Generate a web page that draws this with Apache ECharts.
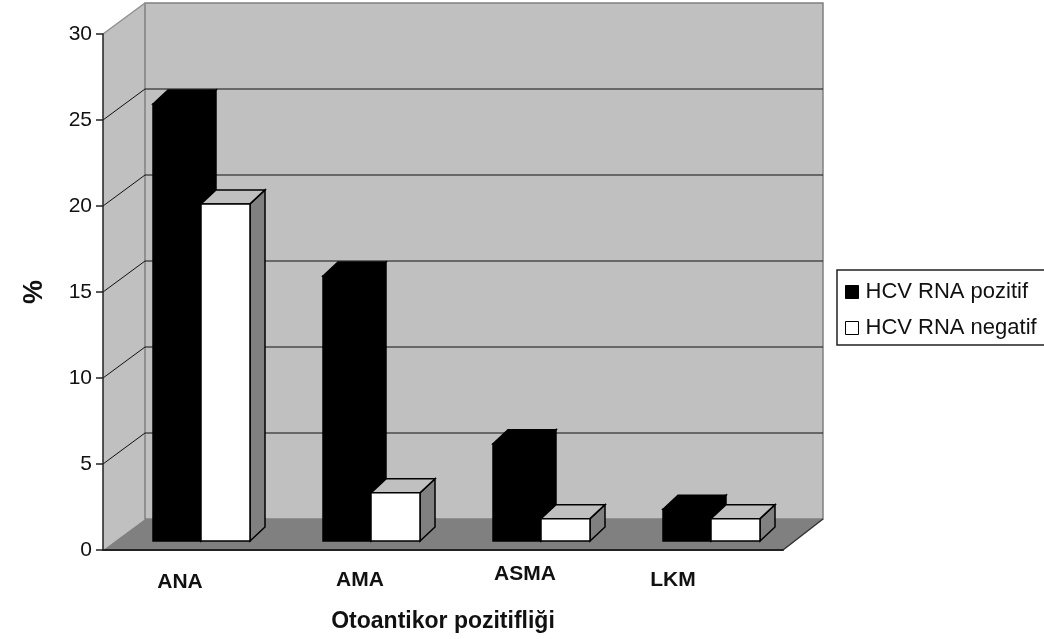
<!DOCTYPE html>
<html>
<head>
    <meta charset="utf-8">
    <title>Otoantikor</title>
    <style>
        html, body { margin: 0; padding: 0; background: #fff; overflow: hidden; }
        #main { width: 1044px; height: 639px; }
    </style>
</head>
<body>
    <div id="main"></div>
    <script src="https://cdn.jsdelivr.net/npm/echarts@6/dist/echarts.min.js"></script>
    <script>
        var categories = ['ANA', 'AMA', 'ASMA', 'LKM'];
        var hcvPozitif = [25.4, 15.4, 5.65, 1.85];
        var hcvNegatif = [19.6, 2.8, 1.3, 1.3];
        var gridValues = [5, 10, 15, 20, 25];

        var FONT = '"Liberation Sans", Arial, sans-serif';
        // 3d look of the old excel chart, in px
        var WALL_DX = 42, WALL_RIGHT_DX = 40, WALL_DY = 31;
        var BAR_DX = 15, BAR_DY = 14;
        var FLOOR_GAP = 9, BAR_W = 49, SHIFT = 13;

        function poly(points, fill, stroke, width) {
            return {
                type: 'polygon',
                shape: { points: points },
                style: { fill: fill, stroke: stroke || null, lineWidth: width || 0 }
            };
        }
        function line(a, b, color, width) {
            return {
                type: 'line',
                shape: { x1: a[0], y1: a[1], x2: b[0], y2: b[1] },
                style: { stroke: color, lineWidth: width || 1 }
            };
        }

        function renderWalls(params, api) {
            var c = params.coordSys;
            var l = c.x, r = c.x + c.width, t = c.y, b = c.y + c.height;
            var backR = r + WALL_RIGHT_DX;
            var out = [
                poly([[l, b], [l + WALL_DX, b - WALL_DY], [l + WALL_DX, t - WALL_DY], [l, t]], '#c0c0c0'),
                poly([[l + WALL_DX, b - WALL_DY], [backR, b - WALL_DY], [backR, t - WALL_DY], [l + WALL_DX, t - WALL_DY]], '#c0c0c0', '#808080', 1.5),
                poly([[l, b], [r, b], [backR, b - WALL_DY], [l + WALL_DX, b - WALL_DY]], '#808080'),
                line([l, t], [l + WALL_DX, t - WALL_DY], '#909090', 1.5),
                line([r, b], [backR, b - WALL_DY], '#333', 1.5)
            ];
            gridValues.forEach(function (v) {
                var y = api.coord([0, v])[1];
                out.push(line([l, y], [l + WALL_DX, y - WALL_DY], '#111', 1));
                out.push(line([l + WALL_DX, y - WALL_DY], [backR, y - WALL_DY], '#111', 1.2));
            });
            return { type: 'group', children: out };
        }

        function renderBar(fill, topFill, sideFill, first) {
            return function (params, api) {
                var p = api.coord([api.value(0), api.value(1)]);
                var base = api.coord([api.value(0), 0])[1] - FLOOR_GAP;
                var x0 = p[0] + SHIFT + (first ? -BAR_W + 1 : 0);
                var x1 = first ? x0 + BAR_W - 1 : x0 + BAR_W;
                var y = p[1] - FLOOR_GAP;
                return {
                    type: 'group',
                    children: [
                        poly([[x1, y], [x1 + BAR_DX, y - BAR_DY], [x1 + BAR_DX, base - BAR_DY], [x1, base]], sideFill, '#000', 1.5),
                        poly([[x0, y], [x0 + BAR_DX, y - BAR_DY], [x1 + BAR_DX, y - BAR_DY], [x1, y]], topFill, '#000', 1.5),
                        poly([[x0, y], [x1, y], [x1, base], [x0, base]], fill, '#000', 1.5)
                    ]
                };
            };
        }

        function toData(values) {
            return values.map(function (v, i) { return [i, v]; });
        }

        var chart = echarts.init(document.getElementById('main'), null, { renderer: 'canvas' });
        chart.setOption({
            animation: false,
            backgroundColor: '#fff',
            grid: { left: 103, right: 261, top: 34, bottom: 89, outerBoundsMode: 'none' },
            legend: {
                orient: 'vertical',
                left: 837,
                top: 270,
                padding: [11, 12, 6, 8],
                itemWidth: 13,
                itemHeight: 13,
                itemGap: 14,
                borderColor: '#222',
                borderWidth: 1.5,
                backgroundColor: '#fff',
                textStyle: { fontFamily: FONT, fontSize: 22, color: '#111', padding: [0, 0, 0, 2] },
                data: [
                    { name: 'HCV RNA pozitif', icon: 'rect', itemStyle: { color: '#000', borderColor: '#000', borderWidth: 1 } },
                    { name: 'HCV RNA negatif', icon: 'rect', itemStyle: { color: '#fff', borderColor: '#000', borderWidth: 1 } }
                ]
            },
            xAxis: {
                type: 'category',
                data: [
                    { value: categories[0], textStyle: { padding: [8, 16, 0, 0] } },
                    { value: categories[1], textStyle: { padding: [6, 0, 0, 4] } },
                    { value: categories[2], textStyle: { padding: [0, 6, 0, 0] } },
                    { value: categories[3], textStyle: { padding: [6, 50, 0, 0] } }
                ],
                z: 5,
                name: 'Otoantikor pozitifliği',
                nameLocation: 'middle',
                nameGap: 60,
                nameTextStyle: { fontFamily: FONT, fontSize: 23, fontWeight: 'bold', color: '#111' },
                axisLine: { lineStyle: { color: '#222', width: 2 } },
                axisTick: { length: 8, lineStyle: { color: '#222', width: 1.5 } },
                axisLabel: { margin: 14, fontFamily: FONT, fontSize: 21, fontWeight: 'bold', color: '#111', interval: 0 }
            },
            yAxis: {
                type: 'value',
                min: 0,
                max: 30,
                interval: 5,
                z: 5,
                name: '%',
                nameLocation: 'middle',
                nameGap: 55,
                nameTextStyle: { fontFamily: FONT, fontSize: 27, fontWeight: 'bold', color: '#111' },
                axisLine: { show: true, lineStyle: { color: '#222', width: 1.5 } },
                axisTick: { show: true, length: 7, lineStyle: { color: '#222', width: 1.5 } },
                axisLabel: { margin: 11, fontFamily: FONT, fontSize: 21, color: '#111' },
                splitLine: { show: false }
            },
            series: [
                {
                    type: 'custom',
                    name: 'duvar',
                    z: 1,
                    silent: true,
                    renderItem: renderWalls,
                    data: [[0, 0]],
                    encode: { x: 0, y: 1 }
                },
                {
                    type: 'custom',
                    name: 'HCV RNA pozitif',
                    z: 2,
                    itemStyle: { color: '#000' },
                    renderItem: renderBar('#000', '#000', '#000', true),
                    data: toData(hcvPozitif),
                    encode: { x: 0, y: 1 }
                },
                {
                    type: 'custom',
                    name: 'HCV RNA negatif',
                    z: 3,
                    itemStyle: { color: '#fff' },
                    renderItem: renderBar('#fff', '#c0c0c0', '#808080', false),
                    data: toData(hcvNegatif),
                    encode: { x: 0, y: 1 }
                }
            ]
        });
    </script>
</body>
</html>
